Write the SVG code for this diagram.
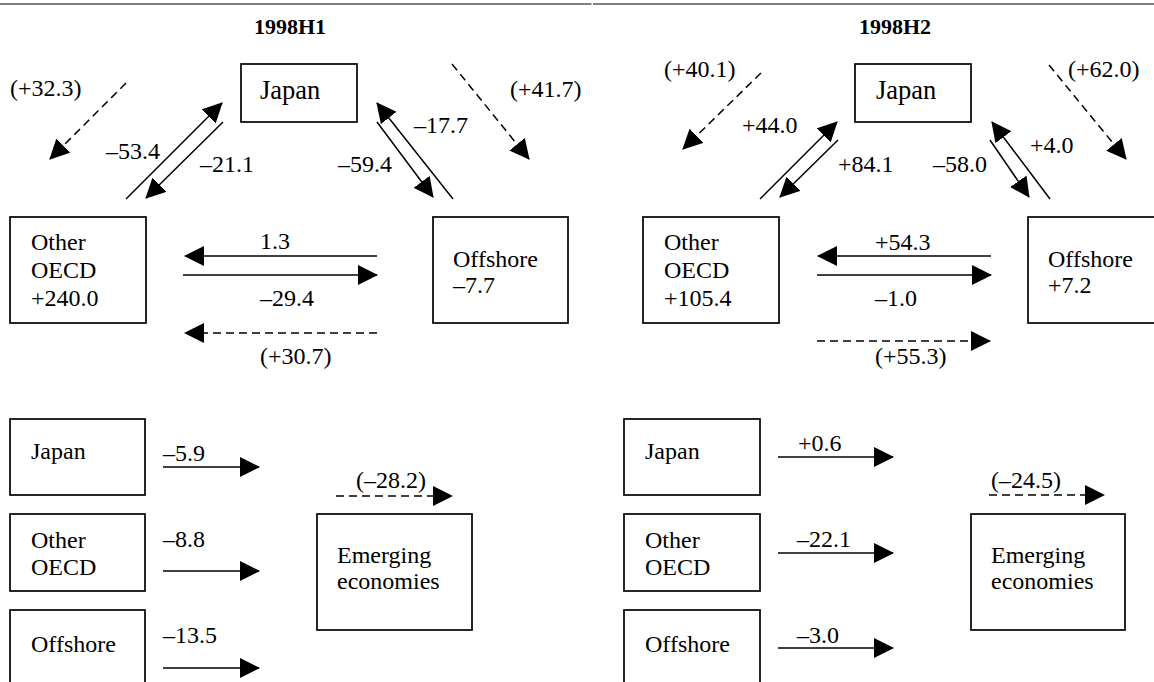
<svg xmlns="http://www.w3.org/2000/svg" width="1154" height="682" viewBox="0 0 1154 682">
<defs>
<style>
text{font-family:"Liberation Serif","Times New Roman",serif;font-size:24px;fill:#000}
.tj{font-size:26.5px}
.title{font-weight:bold;font-size:22px;text-anchor:middle}
.box{fill:#fff;stroke:#000;stroke-width:1.7}
.ln{stroke:#000;stroke-width:1.5;fill:none;marker-end:url(#ah)}
.ds{stroke-dasharray:8 5}
.rule{stroke:#000;stroke-width:1.2}
</style>
<marker id="ah" viewBox="0 0 20 20" refX="19" refY="10" markerWidth="20" markerHeight="20" markerUnits="userSpaceOnUse" orient="auto"><path d="M0,0L20,10L0,20z" fill="#000"/></marker>
</defs>
<rect x="0" y="0" width="1154" height="682" fill="#fff"/>
<line class="rule" x1="0" y1="4" x2="591.5" y2="4"/>
<line class="rule" x1="593" y1="4" x2="1154" y2="4"/>
<text class="title" x="290" y="34">1998H1</text>
<text class="title" x="895" y="34">1998H2</text>

<g id="L-japan"><rect class="box" x="241" y="64" width="116" height="58"/><text class="tj" x="260" y="99">Japan</text></g>
<g id="L-oecd"><rect class="box" x="10" y="217" width="136" height="106"/><text x="31" y="250">Other</text><text x="31" y="278">OECD</text><text x="31" y="306">+240.0</text></g>
<g id="L-offshore"><rect class="box" x="433" y="217" width="135" height="106"/><text x="453" y="267">Offshore</text><text x="453" y="293">–7.7</text></g>
<g id="L-b-japan"><rect class="box" x="10" y="419" width="135" height="76"/><text x="31" y="459">Japan</text></g>
<g id="L-b-oecd"><rect class="box" x="10" y="514" width="135" height="77"/><text x="31" y="548">Other</text><text x="31" y="575">OECD</text></g>
<g id="L-b-offshore"><rect class="box" x="10" y="610" width="135" height="90"/><text x="31" y="652">Offshore</text></g>
<g id="L-emerging"><rect class="box" x="317" y="514" width="155" height="116"/><text x="337" y="563">Emerging</text><text x="337" y="589">economies</text></g>

<g id="R-japan"><rect class="box" x="855" y="64" width="116" height="58"/><text class="tj" x="876" y="99">Japan</text></g>
<g id="R-oecd"><rect class="box" x="643" y="217" width="136" height="106"/><text x="664" y="250">Other</text><text x="664" y="278">OECD</text><text x="664" y="306">+105.4</text></g>
<g id="R-offshore"><rect class="box" x="1028" y="217" width="140" height="106"/><text x="1048" y="267">Offshore</text><text x="1048" y="293">+7.2</text></g>
<g id="R-b-japan"><rect class="box" x="624" y="419" width="136" height="76"/><text x="645" y="459">Japan</text></g>
<g id="R-b-oecd"><rect class="box" x="624" y="514" width="136" height="77"/><text x="645" y="548">Other</text><text x="645" y="575">OECD</text></g>
<g id="R-b-offshore"><rect class="box" x="624" y="610" width="136" height="90"/><text x="645" y="652">Offshore</text></g>
<g id="R-emerging"><rect class="box" x="971" y="514" width="154" height="116"/><text x="991" y="563">Emerging</text><text x="991" y="589">economies</text></g>

<g id="connectors">
<line class="ln ds" x1="126" y1="83" x2="50" y2="159"/>
<line class="ln ds" x1="452" y1="64" x2="529" y2="159"/>
<line class="ln" x1="126" y1="199" x2="222" y2="103"/>
<line class="ln" x1="223" y1="122" x2="146" y2="198"/>
<line class="ln" x1="453" y1="199" x2="377" y2="103"/>
<line class="ln" x1="377" y1="122" x2="433" y2="197"/>
<line class="ln" x1="377" y1="256" x2="185" y2="256"/>
<line class="ln" x1="183" y1="275" x2="377" y2="275"/>
<line class="ln ds" x1="377" y1="333" x2="185" y2="333"/>
<line class="ln" x1="163" y1="467" x2="259" y2="467"/>
<line class="ln" x1="163" y1="571" x2="259" y2="571"/>
<line class="ln" x1="163" y1="668" x2="259" y2="668"/>
<line class="ln ds" x1="336" y1="496" x2="452" y2="496"/>

<line class="ln ds" x1="761" y1="73" x2="683" y2="149"/>
<line class="ln ds" x1="1049" y1="65" x2="1126" y2="159"/>
<line class="ln" x1="760" y1="199" x2="837" y2="122"/>
<line class="ln" x1="838" y1="140" x2="780" y2="197"/>
<line class="ln" x1="1050" y1="199" x2="992" y2="122"/>
<line class="ln" x1="990" y1="140" x2="1029" y2="197"/>
<line class="ln" x1="991" y1="256" x2="818" y2="256"/>
<line class="ln" x1="817" y1="275" x2="991" y2="275"/>
<line class="ln ds" x1="817" y1="341" x2="990" y2="341"/>
<line class="ln" x1="778" y1="457" x2="893" y2="457"/>
<line class="ln" x1="778" y1="553" x2="893" y2="553"/>
<line class="ln" x1="778" y1="648" x2="893" y2="648"/>
<line class="ln ds" x1="989" y1="495" x2="1104" y2="495"/>
</g>

<g id="labels">
<text x="10" y="96">(+32.3)</text>
<text x="510" y="97">(+41.7)</text>
<text x="106" y="159">–53.4</text>
<text x="200" y="172">–21.1</text>
<text x="338" y="172">–59.4</text>
<text x="414" y="133">–17.7</text>
<text x="260" y="249">1.3</text>
<text x="260" y="306">–29.4</text>
<text x="260" y="364">(+30.7)</text>
<text x="163" y="461">–5.9</text>
<text x="163" y="547">–8.8</text>
<text x="163" y="643">–13.5</text>
<text x="356" y="488">(–28.2)</text>

<text x="664" y="77">(+40.1)</text>
<text x="1068" y="77">(+62.0)</text>
<text x="742" y="133">+44.0</text>
<text x="838" y="172">+84.1</text>
<text x="933" y="172">–58.0</text>
<text x="1030" y="153">+4.0</text>
<text x="875" y="250">+54.3</text>
<text x="875" y="306">–1.0</text>
<text x="875" y="364">(+55.3)</text>
<text x="798" y="451">+0.6</text>
<text x="797" y="547">–22.1</text>
<text x="797" y="643">–3.0</text>
<text x="991" y="488">(–24.5)</text>
</g>
</svg>
